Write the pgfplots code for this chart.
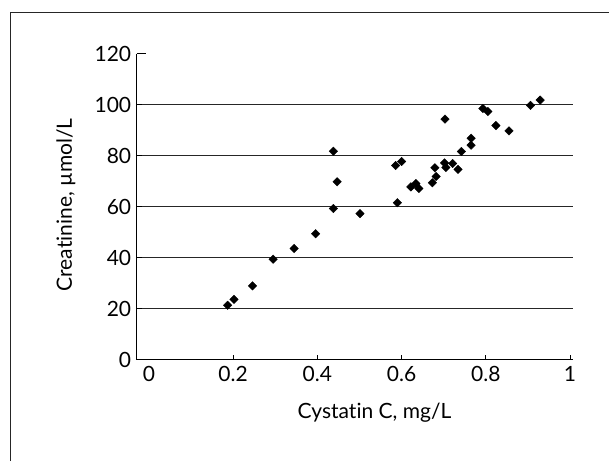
\documentclass[border=0pt]{standalone}
\usepackage{fontspec}
\setmainfont{Lato}[Ligatures={NoCommon}]
\usepackage{pgfplots}
\pgfplotsset{compat=1.18}

\begin{document}
\begin{tikzpicture}[x=1pt,y=1pt]
\path[use as bounding box] (0,0) rectangle (609,461);
% outer frame (only top and left edges visible)
\draw[black!85, line width=1pt] (10,0) -- (10,448.3) -- (609,448.3);

\begin{axis}[
  at={(136.7pt,101.5pt)},
  anchor=south west,
  scale only axis,
  width=436.3pt,
  height=305.5pt,
  xmin=-0.029, xmax=1.007,
  ymin=0, ymax=120,
  axis x line*=bottom,
  axis y line*=left,
  axis line style={black, line width=1.1pt},
  xtick={0.2,0.4,0.6,0.8,1},
  extra x ticks={0},
  extra x tick style={major tick length=0pt, grid=none},
  ytick={0,20,40,60,80,100},
  extra y ticks={120},
  extra y tick style={major tick length=9pt, grid=none},
  tick align=inside,
  major tick length=5pt,
  tick style={black, line width=1pt},
  ymajorgrids,
  major grid style={black!85, line width=1.1pt},
  every tick label/.append style={font=\fontsize{21}{24}\selectfont},
  xticklabel style={yshift=-3pt},
  yticklabel style={xshift=-2pt},
  /pgf/number format/assume math mode=true,
  xlabel={Cystatin C, mg/L},
  ylabel={Creatinine, µmol/L},
  label style={font=\fontsize{21}{24}\selectfont},
  xlabel style={at={(axis description cs:0.545,-0.175)}, anchor=center},
  ylabel style={at={(axis description cs:-0.162,0.506)}, anchor=center},
  clip=false,
]
\addplot[only marks, mark=square*, mark size=3pt, black,
  mark options={rotate=45, fill=black}] coordinates {
  (0.187,21.3) (0.202,23.6) (0.246,28.9) (0.295,39.4) (0.345,43.6)
  (0.396,49.4) (0.438,59.3) (0.438,81.8) (0.447,69.8) (0.501,57.3)
  (0.590,61.6) (0.586,76.2) (0.600,77.8) (0.622,67.8) (0.634,69.1)
  (0.641,67.2) (0.673,69.4) (0.682,71.9) (0.679,75.3) (0.703,94.4)
  (0.702,77.2) (0.705,75.4) (0.721,77.0) (0.734,74.7) (0.742,81.7)
  (0.765,86.9) (0.765,84.2) (0.793,98.6) (0.805,97.4) (0.824,91.9)
  (0.855,89.8) (0.906,99.8) (0.929,101.9)
};
\end{axis}
\end{tikzpicture}
\end{document}
